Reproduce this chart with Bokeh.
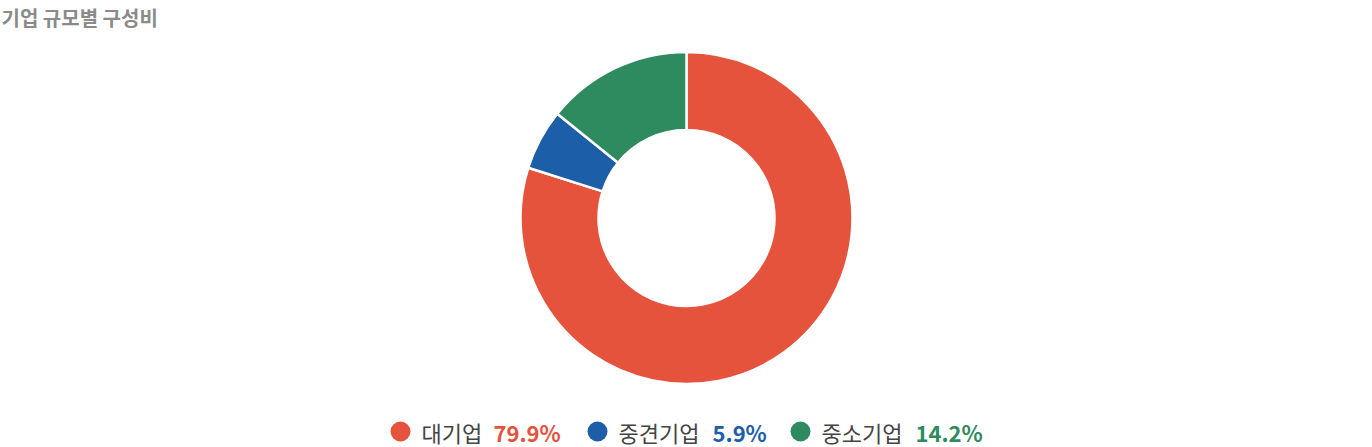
import math
from bokeh.plotting import figure
from bokeh.models import Range1d, ColumnDataSource
from bokeh.core.properties import value
from bokeh.embed import file_html
from bokeh.resources import INLINE

title_text = "기업 규모별 구성비"
categories = ["대기업", "중견기업", "중소기업"]
shares = [79.9, 5.9, 14.2]
colors = ["#E5533D", "#1C5EA8", "#2E8B5F"]

FONT = "Noto Sans CJK KR"
W, H = 1372, 447

p = figure(width=W, height=H, x_range=Range1d(0, W), y_range=Range1d(-H, 0),
           x_axis_type=None, y_axis_type=None, output_backend="svg",
           toolbar_location=None, min_border=0, outline_line_color=None)
p.grid.visible = False

# donut
cx, cy = 686, -217.5
total = sum(shares)
starts, ends = [], []
cum = 0.0
for s in shares:
    a0 = math.pi / 2 - 2 * math.pi * cum / total
    cum += s
    a1 = math.pi / 2 - 2 * math.pi * cum / total
    starts.append(a0)
    ends.append(a1)
src = ColumnDataSource(dict(x=[cx] * 3, y=[cy] * 3, s=starts, e=ends, c=colors))
p.annular_wedge(x="x", y="y", inner_radius=88, outer_radius=166, start_angle="s",
                end_angle="e", direction="clock", fill_color="c",
                line_color="white", line_width=2.5, source=src)

# title
p.text(x=[1], y=[-17], text=[title_text], text_font=value(FONT), text_font_style="bold",
       text_font_size="20px", text_color="#8a8a8a", text_baseline="middle", text_align="left")

# legend
FS = 22
marker_x = [400, 597, 800]
ly = -431
label_x = [m + 21 for m in marker_x]
value_x = [lx + len(c) * FS + 6 for lx, c in zip(label_x, categories)]
p.ellipse(x=marker_x, y=[ly] * 3, width=20, height=20, fill_color=colors, line_color=None)
p.text(x=label_x, y=[ly] * 3, text=categories, text_font=value(FONT),
       text_font_size=f"{FS}px", text_color="#444444", text_baseline="middle", text_align="left")
p.text(x=value_x, y=[ly] * 3, text=[f"{v}%" for v in shares], text_font=value(FONT),
       text_font_style="bold", text_font_size=f"{FS}px", text_color=colors,
       text_baseline="middle", text_align="left")

open("out.html", "w").write(file_html(p, INLINE))
